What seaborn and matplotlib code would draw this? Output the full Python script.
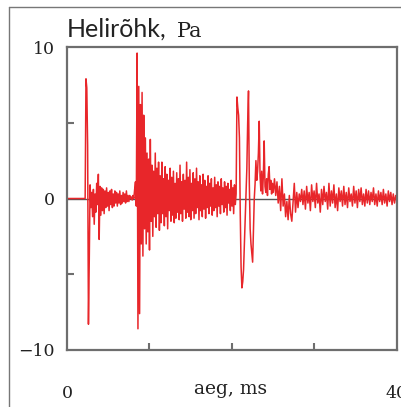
import numpy as np
import pandas as pd
import matplotlib
matplotlib.use("Agg")
import matplotlib.pyplot as plt
import seaborn as sns
from matplotlib.lines import Line2D

# ---- data (sound pressure, Pa) ----
quiet_t = [0.0, 2.2]
quiet_v = [0.0, 0.0]

burst1_t0, burst1_dt = 2.2, 0.1
burst1_v = [0.0, 7.9, 7.3, 3.5, -8.3, -4.0, 0.9, -0.6, 0.4, -1.2,
            0.6, -1.7, 0.3, -0.9, 1.0, -0.4, 1.6, -2.7, 0.8, -1.1,
            0.7, -0.8, 0.6, -1.0, 0.5, -0.6, 0.7, -0.5, 0.4, -0.8,
            0.5, -0.4, 0.6, -0.6, 0.3, -0.5, 0.5, -0.3, 0.4, -0.5,
            0.3, -0.3, 0.5, -0.4, 0.2, -0.3, 0.4, -0.2, 0.3, -0.3,
            0.5, -0.2, 0.2, -0.2, 0.2, 0.0, 0.1, -0.1, 0.2, 0.0,
            0.6, 1.1]

burst2_t0, burst2_dt = 8.4, 0.1
burst2_v = [-0.5, 9.6, -8.6, 7.4, -7.6, 6.2, -3.0, 7.0, -3.8, 5.5,
            -2.0, 4.0, -3.0, 3.0, -2.2, 2.6, -3.4, 3.9, -1.5, 2.2,
            -2.5, 1.8, -1.2, 3.0, -1.9, 2.0, -1.0, 2.4, -2.1, 1.5,
            -1.6, 2.4, -1.0, 1.3, -1.8, 2.1, -1.2, 1.6, -2.0, 1.2,
            -0.8, 2.0, -1.5, 1.4, -1.1, 1.8, -1.6, 1.0, -1.3, 1.7,
            -0.9, 1.3, -1.4, 2.2, -1.0, 1.1, -1.5, 1.6, -0.7, 1.2,
            -1.3, 2.4, -0.9, 1.4, -1.2, 1.9, -1.4, 1.0, -0.8, 1.7,
            -1.3, 1.3, -1.0, 2.0, -0.6, 1.1, -1.4, 1.5, -0.8, 0.9,
            -1.2, 1.6, -0.7, 1.2, -1.3, 0.8, -0.6, 1.5, -1.0, 1.0,
            -0.5, 1.3, -1.1, 0.7, -0.8, 1.4, -0.6, 0.9, -1.2, 1.1,
            -0.5, 0.8, -1.0, 1.3, -0.4, 0.7, -0.9, 1.1, -0.6, 0.8,
            -1.1, 1.0, -0.3, 0.6, -0.8, 1.2, -0.5, 0.7, -1.0, 0.9,
            -0.4]

burst3_t0, burst3_dt = 20.5, 0.1
burst3_v = [0.3, 6.7, 6.0, 5.5, 4.0, -1.0, -4.5, -5.9, -5.5, -4.7,
            -3.0, -1.5, 0.5, 2.0, 5.0, 7.1, 1.0, -2.0, -3.0, -3.6,
            -4.2, -2.0, 0.0, 1.0, 2.5, 1.2, 1.8, 3.0, 5.1, 1.5,
            0.5, 1.8, 0.3, 1.5, 3.8, 0.8, 0.4, 1.3, 0.2, 1.6,
            2.1, 0.6, 1.2, 0.3, 1.0]

tail_t0, tail_dt = 25.0, 0.15
tail_v = [0.4, 1.3, 0.2, 1.1, -0.3, 0.8, -0.8, 1.3, -0.5, 0.3,
          -1.2, -0.2, -1.4, 0.2, -1.0, -1.5, -0.3, 1.0, -0.9, 0.4,
          -0.6, 0.3, -0.2, 0.6, -0.4, 0.5, -0.7, 0.8, -0.3, 0.4,
          -0.8, 0.9, -0.2, 0.5, -0.6, 1.0, -0.3, 0.3, -0.9, 0.6,
          -0.4, 0.8, -0.2, 0.4, -0.7, 1.0, -0.5, 0.5, -0.3, 0.9,
          -0.6, 0.3, -0.8, 0.7, -0.2, 0.5, -0.5, 0.8, -0.4, 0.4,
          -0.6, 0.7, -0.2, 0.3, -0.5, 0.8, -0.3, 0.5, -0.6, 0.6,
          -0.2, 0.7, -0.4, 0.3, -0.5, 0.6, -0.3, 0.5, -0.4, 0.4,
          -0.2, 0.7, -0.4, 0.3, -0.5, 0.5, -0.2, 0.4, -0.4, 0.6,
          -0.3, 0.3, -0.5, 0.5, -0.2, 0.4, -0.4, 0.3, -0.3, 0.2,
          -0.1]

y_ticks = [-10, 0, 10]
y_ticklabels = ["\u221210", "0", "10"]
x_labels_pos = [0, 40]
x_ticklabels = ["0", "40"]

title_main = "Helir\u00f5hk,"
title_unit = "Pa"
x_label = "aeg, ms"

# ---- build table ----
def seg(t0, dt, v):
    return t0 + dt * np.arange(len(v)), np.asarray(v, dtype=float)

parts = [(np.asarray(quiet_t), np.asarray(quiet_v))]
parts.append(seg(burst1_t0, burst1_dt, burst1_v))
parts.append(seg(burst2_t0, burst2_dt, burst2_v))
parts.append(seg(burst3_t0, burst3_dt, burst3_v))
parts.append(seg(tail_t0, tail_dt, tail_v))
t_all = np.concatenate([p[0] for p in parts])
v_all = np.concatenate([p[1] for p in parts])
df = pd.DataFrame({"t": t_all, "p": v_all})

# ---- figure ----
sns.set_theme(style="white")
W, H = 402, 407
fig = plt.figure(figsize=(W / 100, H / 100), dpi=100)
ax = fig.add_axes([67 / W, 1 - 350 / H, (397 - 67) / W, (350 - 47) / H])

ax.axhline(0, color="#555555", lw=1.0, zorder=1)
sns.lineplot(data=df, x="t", y="p", ax=ax, color="#e8262a", lw=1.1,
             estimator=None, sort=False, zorder=2)

ax.set_xlim(0, 40)
ax.set_ylim(-10, 10)

serif = "DejaVu Serif"
txt_col = "#222222"
ax.set_yticks(y_ticks)
ax.set_yticklabels(y_ticklabels, fontfamily=serif, fontsize=12.5, color=txt_col)
ax.set_yticks([-5, 5], minor=True)
ax.tick_params(axis="y", which="major", length=0, pad=9)
ax.tick_params(axis="y", which="minor", direction="in", length=5, width=1.5,
               color="#6e6e6e", left=True)

ax.set_xticks(x_labels_pos)
ax.set_xticklabels(x_ticklabels, fontfamily=serif, fontsize=12.5, color=txt_col)
ax.set_xticks([10, 20, 30], minor=True)
ax.tick_params(axis="x", which="major", length=0, pad=25)
ax.tick_params(axis="x", which="minor", direction="in", length=5, width=1.5,
               color="#6e6e6e", bottom=True)
ax.set_xlabel("")
ax.set_ylabel("")

for s in ax.spines.values():
    s.set_color("#6e6e6e")
    s.set_linewidth(1.6)

# x-axis title on the same line as the 0 / 40 labels
fig.text(231 / W, 1 - 394 / H, x_label, fontfamily=serif, fontsize=13.5,
         color=txt_col, ha="center", va="baseline")

# title: sans part + serif unit
fig.text(67 / W, 1 - 37 / H, title_main, fontfamily="Lato", fontsize=18,
         color=txt_col, ha="left", va="baseline")
fig.text(177 / W, 1 - 37 / H, title_unit, fontfamily=serif, fontsize=15,
         color=txt_col, ha="left", va="baseline")

# outer frame (partly cut by image edge)
fig.add_artist(Line2D([9 / W, 9 / W], [0, 1 - 7 / H], transform=fig.transFigure,
                      color="#777777", lw=1.0))
fig.add_artist(Line2D([9 / W, 1], [1 - 7 / H, 1 - 7 / H], transform=fig.transFigure,
                      color="#777777", lw=1.0))

fig.savefig("out.png", dpi=100)
